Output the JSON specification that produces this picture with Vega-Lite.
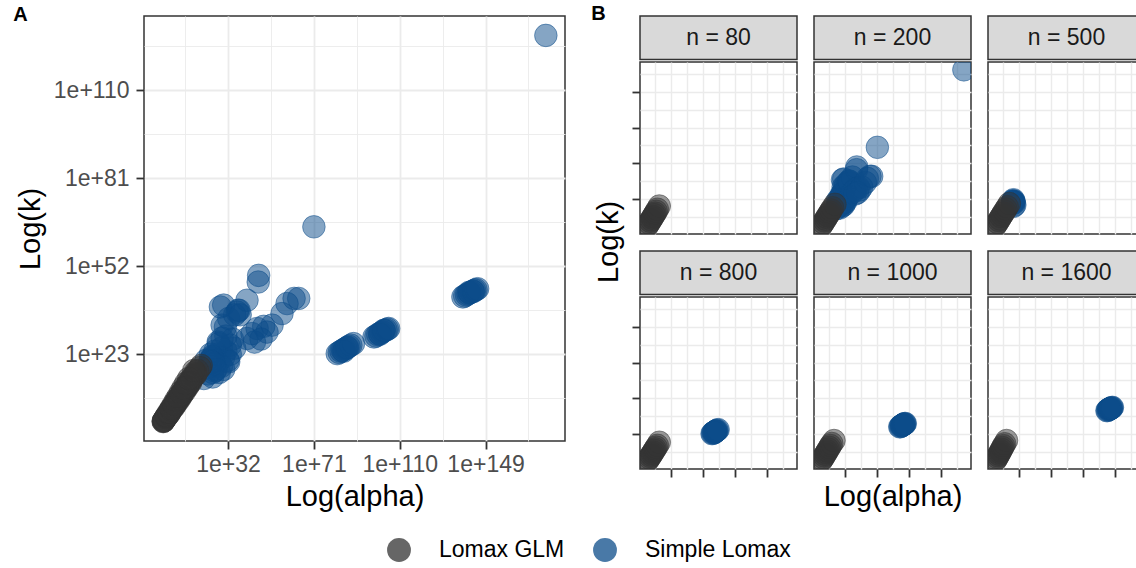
{
  "$schema": "https://vega.github.io/schema/vega-lite/v6.json",
  "background": "white",
  "padding": {"left": 12, "top": 4, "right": 0, "bottom": 0},
  "config": {
    "font": "Liberation Sans",
    "view": {"stroke": "#333333", "strokeWidth": 1.5},
    "axis": {
      "domain": false,
      "gridColor": "#EBEBEB",
      "tickColor": "#333333",
      "tickWidth": 1.8,
      "tickSize": 8,
      "labelColor": "#4D4D4D",
      "labelFontSize": 23,
      "labelFont": "Liberation Sans",
      "titleFont": "Liberation Sans",
      "titleFontSize": 29,
      "titleFontWeight": "normal",
      "titleColor": "#000000",
      "labelOverlap": false,
      "labelFlush": false,
      "labelBound": false
    },
    "legend": {
      "orient": "none",
      "legendX": 243,
      "legendY": 522,
      "direction": "horizontal",
      "labelFontSize": 23,
      "labelFont": "Liberation Sans",
      "labelColor": "#000000",
      "symbolSize": 570,
      "symbolType": "circle",
      "symbolOpacity": 0.75,
      "symbolStrokeWidth": 0,
      "labelOffset": 28,
      "columnPadding": 28
    },
    "title": {"font": "Liberation Sans"}
  },
  "datasets": {
    "pts": [
      {"n": 200, "method": "Simple Lomax", "log10_alpha": 22.5, "log10_k": 18.5},
      {"n": 200, "method": "Simple Lomax", "log10_alpha": 24, "log10_k": 20},
      {"n": 200, "method": "Simple Lomax", "log10_alpha": 25, "log10_k": 22},
      {"n": 200, "method": "Simple Lomax", "log10_alpha": 26, "log10_k": 19},
      {"n": 200, "method": "Simple Lomax", "log10_alpha": 27, "log10_k": 23},
      {"n": 200, "method": "Simple Lomax", "log10_alpha": 28, "log10_k": 21},
      {"n": 200, "method": "Simple Lomax", "log10_alpha": 29, "log10_k": 25},
      {"n": 200, "method": "Simple Lomax", "log10_alpha": 30, "log10_k": 22},
      {"n": 200, "method": "Simple Lomax", "log10_alpha": 31, "log10_k": 24},
      {"n": 200, "method": "Simple Lomax", "log10_alpha": 27.5, "log10_k": 27},
      {"n": 200, "method": "Simple Lomax", "log10_alpha": 32, "log10_k": 21},
      {"n": 200, "method": "Simple Lomax", "log10_alpha": 26, "log10_k": 17.5},
      {"n": 200, "method": "Simple Lomax", "log10_alpha": 33, "log10_k": 26},
      {"n": 200, "method": "Simple Lomax", "log10_alpha": 29, "log10_k": 19},
      {"n": 200, "method": "Simple Lomax", "log10_alpha": 21, "log10_k": 15},
      {"n": 200, "method": "Simple Lomax", "log10_alpha": 23, "log10_k": 16.5},
      {"n": 200, "method": "Simple Lomax", "log10_alpha": 25, "log10_k": 15.5},
      {"n": 200, "method": "Simple Lomax", "log10_alpha": 28, "log10_k": 17},
      {"n": 200, "method": "Simple Lomax", "log10_alpha": 30, "log10_k": 18},
      {"n": 200, "method": "Simple Lomax", "log10_alpha": 33, "log10_k": 23},
      {"n": 200, "method": "Simple Lomax", "log10_alpha": 34, "log10_k": 28},
      {"n": 200, "method": "Simple Lomax", "log10_alpha": 31, "log10_k": 29},
      {"n": 200, "method": "Simple Lomax", "log10_alpha": 26, "log10_k": 24},
      {"n": 200, "method": "Simple Lomax", "log10_alpha": 24, "log10_k": 23},
      {"n": 200, "method": "Simple Lomax", "log10_alpha": 35, "log10_k": 25},
      {"n": 200, "method": "Simple Lomax", "log10_alpha": 22, "log10_k": 21},
      {"n": 200, "method": "Simple Lomax", "log10_alpha": 27.7, "log10_k": 26.5},
      {"n": 200, "method": "Simple Lomax", "log10_alpha": 29.3, "log10_k": 28.3},
      {"n": 200, "method": "Simple Lomax", "log10_alpha": 29.3, "log10_k": 32.6},
      {"n": 200, "method": "Simple Lomax", "log10_alpha": 30.8, "log10_k": 32},
      {"n": 200, "method": "Simple Lomax", "log10_alpha": 32.3, "log10_k": 34.8},
      {"n": 200, "method": "Simple Lomax", "log10_alpha": 28.5, "log10_k": 38.6},
      {"n": 200, "method": "Simple Lomax", "log10_alpha": 30, "log10_k": 39.2},
      {"n": 200, "method": "Simple Lomax", "log10_alpha": 36.1, "log10_k": 36.9},
      {"n": 200, "method": "Simple Lomax", "log10_alpha": 37, "log10_k": 37.5},
      {"n": 200, "method": "Simple Lomax", "log10_alpha": 35, "log10_k": 36},
      {"n": 200, "method": "Simple Lomax", "log10_alpha": 36.5, "log10_k": 37.5},
      {"n": 200, "method": "Simple Lomax", "log10_alpha": 37.5, "log10_k": 36},
      {"n": 200, "method": "Simple Lomax", "log10_alpha": 40.6, "log10_k": 40.8},
      {"n": 200, "method": "Simple Lomax", "log10_alpha": 45.7, "log10_k": 46.8},
      {"n": 200, "method": "Simple Lomax", "log10_alpha": 45.9, "log10_k": 49},
      {"n": 200, "method": "Simple Lomax", "log10_alpha": 32.3, "log10_k": 20.5},
      {"n": 200, "method": "Simple Lomax", "log10_alpha": 40.6, "log10_k": 28.2},
      {"n": 200, "method": "Simple Lomax", "log10_alpha": 42.9, "log10_k": 29.8},
      {"n": 200, "method": "Simple Lomax", "log10_alpha": 45.2, "log10_k": 31.5},
      {"n": 200, "method": "Simple Lomax", "log10_alpha": 48.2, "log10_k": 32.2},
      {"n": 200, "method": "Simple Lomax", "log10_alpha": 49.7, "log10_k": 30.3},
      {"n": 200, "method": "Simple Lomax", "log10_alpha": 44, "log10_k": 27},
      {"n": 200, "method": "Simple Lomax", "log10_alpha": 52, "log10_k": 32.6},
      {"n": 200, "method": "Simple Lomax", "log10_alpha": 56.5, "log10_k": 36.4},
      {"n": 200, "method": "Simple Lomax", "log10_alpha": 58.8, "log10_k": 39.7},
      {"n": 200, "method": "Simple Lomax", "log10_alpha": 62, "log10_k": 41.4},
      {"n": 200, "method": "Simple Lomax", "log10_alpha": 64.1, "log10_k": 41.4},
      {"n": 200, "method": "Simple Lomax", "log10_alpha": 47, "log10_k": 28},
      {"n": 200, "method": "Simple Lomax", "log10_alpha": 71, "log10_k": 65},
      {"n": 200, "method": "Simple Lomax", "log10_alpha": 176.4, "log10_k": 128.1},
      {"n": 500, "method": "Simple Lomax", "log10_alpha": 23.5, "log10_k": 20},
      {"n": 500, "method": "Simple Lomax", "log10_alpha": 24.5, "log10_k": 21.5},
      {"n": 500, "method": "Simple Lomax", "log10_alpha": 25, "log10_k": 20.5},
      {"n": 500, "method": "Simple Lomax", "log10_alpha": 24, "log10_k": 19},
      {"n": 500, "method": "Simple Lomax", "log10_alpha": 25.5, "log10_k": 21},
      {"n": 500, "method": "Simple Lomax", "log10_alpha": 24.8, "log10_k": 22.3},
      {"n": 500, "method": "Simple Lomax", "log10_alpha": 23.8, "log10_k": 21},
      {"n": 500, "method": "Simple Lomax", "log10_alpha": 25.8, "log10_k": 19.8},
      {"n": 500, "method": "Simple Lomax", "log10_alpha": 24.2, "log10_k": 20.4},
      {"n": 500, "method": "Simple Lomax", "log10_alpha": 25, "log10_k": 17},
      {"n": 500, "method": "Simple Lomax", "log10_alpha": 26.5, "log10_k": 18},
      {"n": 800, "method": "Simple Lomax", "log10_alpha": 81.6, "log10_k": 23.2},
      {"n": 800, "method": "Simple Lomax", "log10_alpha": 82.5, "log10_k": 23.6},
      {"n": 800, "method": "Simple Lomax", "log10_alpha": 83.3, "log10_k": 24},
      {"n": 800, "method": "Simple Lomax", "log10_alpha": 84, "log10_k": 24.3},
      {"n": 800, "method": "Simple Lomax", "log10_alpha": 84.8, "log10_k": 24.6},
      {"n": 800, "method": "Simple Lomax", "log10_alpha": 85.5, "log10_k": 24.9},
      {"n": 800, "method": "Simple Lomax", "log10_alpha": 86.3, "log10_k": 25.3},
      {"n": 800, "method": "Simple Lomax", "log10_alpha": 87, "log10_k": 25.6},
      {"n": 800, "method": "Simple Lomax", "log10_alpha": 87.8, "log10_k": 26},
      {"n": 800, "method": "Simple Lomax", "log10_alpha": 89, "log10_k": 26.5},
      {"n": 800, "method": "Simple Lomax", "log10_alpha": 84.5, "log10_k": 24},
      {"n": 800, "method": "Simple Lomax", "log10_alpha": 86, "log10_k": 25.2},
      {"n": 1000, "method": "Simple Lomax", "log10_alpha": 98.3, "log10_k": 28.7},
      {"n": 1000, "method": "Simple Lomax", "log10_alpha": 99.2, "log10_k": 29},
      {"n": 1000, "method": "Simple Lomax", "log10_alpha": 100, "log10_k": 29.5},
      {"n": 1000, "method": "Simple Lomax", "log10_alpha": 100.8, "log10_k": 29.8},
      {"n": 1000, "method": "Simple Lomax", "log10_alpha": 101.5, "log10_k": 30.1},
      {"n": 1000, "method": "Simple Lomax", "log10_alpha": 102.3, "log10_k": 30.4},
      {"n": 1000, "method": "Simple Lomax", "log10_alpha": 103, "log10_k": 30.8},
      {"n": 1000, "method": "Simple Lomax", "log10_alpha": 103.8, "log10_k": 31},
      {"n": 1000, "method": "Simple Lomax", "log10_alpha": 104.4, "log10_k": 31.3},
      {"n": 1000, "method": "Simple Lomax", "log10_alpha": 105, "log10_k": 31.5},
      {"n": 1000, "method": "Simple Lomax", "log10_alpha": 101, "log10_k": 29.6},
      {"n": 1000, "method": "Simple Lomax", "log10_alpha": 102.8, "log10_k": 30.9},
      {"n": 1600, "method": "Simple Lomax", "log10_alpha": 138.7, "log10_k": 41.9},
      {"n": 1600, "method": "Simple Lomax", "log10_alpha": 139.5, "log10_k": 42.2},
      {"n": 1600, "method": "Simple Lomax", "log10_alpha": 140.3, "log10_k": 42.6},
      {"n": 1600, "method": "Simple Lomax", "log10_alpha": 141, "log10_k": 42.9},
      {"n": 1600, "method": "Simple Lomax", "log10_alpha": 141.8, "log10_k": 43.2},
      {"n": 1600, "method": "Simple Lomax", "log10_alpha": 142.5, "log10_k": 43.5},
      {"n": 1600, "method": "Simple Lomax", "log10_alpha": 143.2, "log10_k": 43.8},
      {"n": 1600, "method": "Simple Lomax", "log10_alpha": 144, "log10_k": 44.1},
      {"n": 1600, "method": "Simple Lomax", "log10_alpha": 144.7, "log10_k": 44.3},
      {"n": 1600, "method": "Simple Lomax", "log10_alpha": 145.4, "log10_k": 44.6},
      {"n": 1600, "method": "Simple Lomax", "log10_alpha": 141.5, "log10_k": 43.4},
      {"n": 1600, "method": "Simple Lomax", "log10_alpha": 143.5, "log10_k": 43.7},
      {"n": 80, "method": "Lomax GLM", "log10_alpha": 2.5, "log10_k": 0.8},
      {"n": 80, "method": "Lomax GLM", "log10_alpha": 3.6, "log10_k": 2.1},
      {"n": 80, "method": "Lomax GLM", "log10_alpha": 4.9, "log10_k": 3.3},
      {"n": 80, "method": "Lomax GLM", "log10_alpha": 6.1, "log10_k": 4.8},
      {"n": 80, "method": "Lomax GLM", "log10_alpha": 7.4, "log10_k": 6.0},
      {"n": 80, "method": "Lomax GLM", "log10_alpha": 8.6, "log10_k": 7.5},
      {"n": 80, "method": "Lomax GLM", "log10_alpha": 9.8, "log10_k": 8.6},
      {"n": 80, "method": "Lomax GLM", "log10_alpha": 11.1, "log10_k": 10.2},
      {"n": 80, "method": "Lomax GLM", "log10_alpha": 12.3, "log10_k": 11.4},
      {"n": 80, "method": "Lomax GLM", "log10_alpha": 13.6, "log10_k": 12.9},
      {"n": 80, "method": "Lomax GLM", "log10_alpha": 15.0, "log10_k": 14.6},
      {"n": 80, "method": "Lomax GLM", "log10_alpha": 17.3, "log10_k": 17.2},
      {"n": 200, "method": "Lomax GLM", "log10_alpha": 2.7, "log10_k": 1.0},
      {"n": 200, "method": "Lomax GLM", "log10_alpha": 3.9, "log10_k": 2.3},
      {"n": 200, "method": "Lomax GLM", "log10_alpha": 5.2, "log10_k": 3.6},
      {"n": 200, "method": "Lomax GLM", "log10_alpha": 6.5, "log10_k": 5.1},
      {"n": 200, "method": "Lomax GLM", "log10_alpha": 7.9, "log10_k": 6.4},
      {"n": 200, "method": "Lomax GLM", "log10_alpha": 9.2, "log10_k": 8.0},
      {"n": 200, "method": "Lomax GLM", "log10_alpha": 10.6, "log10_k": 9.3},
      {"n": 200, "method": "Lomax GLM", "log10_alpha": 11.9, "log10_k": 10.9},
      {"n": 200, "method": "Lomax GLM", "log10_alpha": 13.3, "log10_k": 12.3},
      {"n": 200, "method": "Lomax GLM", "log10_alpha": 14.8, "log10_k": 13.9},
      {"n": 200, "method": "Lomax GLM", "log10_alpha": 16.5, "log10_k": 15.8},
      {"n": 200, "method": "Lomax GLM", "log10_alpha": 19.3, "log10_k": 18.6},
      {"n": 500, "method": "Lomax GLM", "log10_alpha": 2.6, "log10_k": 0.9},
      {"n": 500, "method": "Lomax GLM", "log10_alpha": 4.0, "log10_k": 2.4},
      {"n": 500, "method": "Lomax GLM", "log10_alpha": 5.4, "log10_k": 3.8},
      {"n": 500, "method": "Lomax GLM", "log10_alpha": 6.8, "log10_k": 5.4},
      {"n": 500, "method": "Lomax GLM", "log10_alpha": 8.1, "log10_k": 6.7},
      {"n": 500, "method": "Lomax GLM", "log10_alpha": 9.6, "log10_k": 8.4},
      {"n": 500, "method": "Lomax GLM", "log10_alpha": 11.0, "log10_k": 9.8},
      {"n": 500, "method": "Lomax GLM", "log10_alpha": 12.5, "log10_k": 11.5},
      {"n": 500, "method": "Lomax GLM", "log10_alpha": 14.0, "log10_k": 13.0},
      {"n": 500, "method": "Lomax GLM", "log10_alpha": 15.6, "log10_k": 14.8},
      {"n": 500, "method": "Lomax GLM", "log10_alpha": 17.3, "log10_k": 16.6},
      {"n": 500, "method": "Lomax GLM", "log10_alpha": 19.8, "log10_k": 19.3},
      {"n": 800, "method": "Lomax GLM", "log10_alpha": 2.9, "log10_k": 1.1},
      {"n": 800, "method": "Lomax GLM", "log10_alpha": 4.0, "log10_k": 2.2},
      {"n": 800, "method": "Lomax GLM", "log10_alpha": 5.2, "log10_k": 3.3},
      {"n": 800, "method": "Lomax GLM", "log10_alpha": 6.3, "log10_k": 4.6},
      {"n": 800, "method": "Lomax GLM", "log10_alpha": 7.5, "log10_k": 5.7},
      {"n": 800, "method": "Lomax GLM", "log10_alpha": 8.7, "log10_k": 7.0},
      {"n": 800, "method": "Lomax GLM", "log10_alpha": 9.9, "log10_k": 8.2},
      {"n": 800, "method": "Lomax GLM", "log10_alpha": 11.1, "log10_k": 9.6},
      {"n": 800, "method": "Lomax GLM", "log10_alpha": 12.3, "log10_k": 10.8},
      {"n": 800, "method": "Lomax GLM", "log10_alpha": 13.6, "log10_k": 12.2},
      {"n": 800, "method": "Lomax GLM", "log10_alpha": 15.0, "log10_k": 13.7},
      {"n": 800, "method": "Lomax GLM", "log10_alpha": 17.3, "log10_k": 16.2},
      {"n": 1000, "method": "Lomax GLM", "log10_alpha": 2.8, "log10_k": 1.2},
      {"n": 1000, "method": "Lomax GLM", "log10_alpha": 4.0, "log10_k": 2.5},
      {"n": 1000, "method": "Lomax GLM", "log10_alpha": 5.2, "log10_k": 3.7},
      {"n": 1000, "method": "Lomax GLM", "log10_alpha": 6.4, "log10_k": 5.1},
      {"n": 1000, "method": "Lomax GLM", "log10_alpha": 7.6, "log10_k": 6.4},
      {"n": 1000, "method": "Lomax GLM", "log10_alpha": 8.8, "log10_k": 7.8},
      {"n": 1000, "method": "Lomax GLM", "log10_alpha": 10.0, "log10_k": 9.1},
      {"n": 1000, "method": "Lomax GLM", "log10_alpha": 11.3, "log10_k": 10.6},
      {"n": 1000, "method": "Lomax GLM", "log10_alpha": 12.6, "log10_k": 12.0},
      {"n": 1000, "method": "Lomax GLM", "log10_alpha": 13.9, "log10_k": 13.5},
      {"n": 1000, "method": "Lomax GLM", "log10_alpha": 15.5, "log10_k": 15.2},
      {"n": 1000, "method": "Lomax GLM", "log10_alpha": 18.2, "log10_k": 17.6},
      {"n": 1600, "method": "Lomax GLM", "log10_alpha": 3.0, "log10_k": 1.5},
      {"n": 1600, "method": "Lomax GLM", "log10_alpha": 4.0, "log10_k": 2.7},
      {"n": 1600, "method": "Lomax GLM", "log10_alpha": 5.0, "log10_k": 3.9},
      {"n": 1600, "method": "Lomax GLM", "log10_alpha": 6.1, "log10_k": 5.2},
      {"n": 1600, "method": "Lomax GLM", "log10_alpha": 7.2, "log10_k": 6.5},
      {"n": 1600, "method": "Lomax GLM", "log10_alpha": 8.2, "log10_k": 7.8},
      {"n": 1600, "method": "Lomax GLM", "log10_alpha": 9.3, "log10_k": 9.1},
      {"n": 1600, "method": "Lomax GLM", "log10_alpha": 10.4, "log10_k": 10.5},
      {"n": 1600, "method": "Lomax GLM", "log10_alpha": 11.5, "log10_k": 11.9},
      {"n": 1600, "method": "Lomax GLM", "log10_alpha": 12.7, "log10_k": 13.4},
      {"n": 1600, "method": "Lomax GLM", "log10_alpha": 14.1, "log10_k": 15.0},
      {"n": 1600, "method": "Lomax GLM", "log10_alpha": 16.4, "log10_k": 17.6}
    ]
  },
  "spacing": 25,
  "hconcat": [
    {
      "title": {"text": "A", "anchor": "start", "frame": "bounds", "offset": -9, "dx": -3, "fontSize": 20, "fontWeight": "bold", "color": "#000000"},
      "width": 421,
      "height": 425,
      "data": {"name": "pts"},
      "mark": {"type": "point", "filled": true, "size": 510, "opacity": 1, "fillOpacity": 0.5, "strokeOpacity": 0.5, "strokeWidth": 1, "clip": true},
      "encoding": {
        "x": {"field": "log10_alpha", "type": "quantitative", "title": "Log(alpha)",
          "scale": {"domain": [-6.2, 185.1], "nice": false, "zero": false},
          "axis": {"values": [12.5, 32, 51.5, 71, 90.5, 110, 129.5, 149, 168.5],
            "labelExpr": "indexof([32,71,110,149], datum.value) >= 0 ? '1e+' + datum.value : ''",
            "tickOpacity": {"condition": {"test": "indexof([32,71,110,149], datum.value) >= 0", "value": 1}, "value": 0},
            "gridWidth": {"condition": {"test": "indexof([32,71,110,149], datum.value) >= 0", "value": 1.8}, "value": 0.9},
            "labelPadding": 4, "titlePadding": 6}},
        "y": {"field": "log10_k", "type": "quantitative", "title": "Log(k)",
          "scale": {"domain": [-5.6, 134.5], "nice": false, "zero": false},
          "axis": {"values": [8.5, 23, 37.5, 52, 66.5, 81, 95.5, 110, 124.5],
            "labelExpr": "indexof([23,52,81,110], datum.value) >= 0 ? '1e+' + datum.value : ''",
            "tickOpacity": {"condition": {"test": "indexof([23,52,81,110], datum.value) >= 0", "value": 1}, "value": 0},
            "gridWidth": {"condition": {"test": "indexof([23,52,81,110], datum.value) >= 0", "value": 1.8}, "value": 0.9},
            "labelPadding": 7, "titlePadding": 8}},
        "color": {"field": "method", "type": "nominal",
          "scale": {"domain": ["Lomax GLM", "Simple Lomax"], "range": ["#333333", "#0C4C8A"]},
          "legend": {"title": null}},
        "stroke": {"field": "method", "type": "nominal",
          "scale": {"domain": ["Lomax GLM", "Simple Lomax"], "range": ["#333333", "#0C4C8A"]},
          "legend": null}
      }
    },
    {
      "title": {"text": "B", "anchor": "start", "frame": "bounds", "offset": -9, "dx": -4, "fontSize": 20, "fontWeight": "bold", "color": "#000000"},
      "vconcat": [
        {
          "title": {"text": "Log(k)", "orient": "left", "anchor": "middle", "fontSize": 29, "fontWeight": "normal", "color": "#000000", "offset": 6, "dx": 22},
          "spacing": 15,
          "vconcat": [
            {
              "spacing": 15,
              "hconcat": [
                {"spacing": 0, "vconcat": [
                  {"width": 157, "height": 43.5, "view": {"fill": "#D9D9D9", "stroke": "#333333", "strokeWidth": 1.5}, "data": {"values": [{"label": "n = 80"}]}, "mark": {"type": "text", "fontSize": 23, "color": "#1A1A1A", "font": "Liberation Sans"}, "encoding": {"text": {"field": "label"}}},
                  {"width": 157, "height": 172, "data": {"name": "pts"}, "transform": [{"filter": "datum.n == 80"}],
                    "mark": {"type": "point", "filled": true, "size": 510, "opacity": 1, "fillOpacity": 0.5, "strokeOpacity": 0.5, "strokeWidth": 1, "clip": true},
                    "encoding": {
                      "x": {"field": "log10_alpha", "type": "quantitative", "scale": {"domain": [-6.2, 185.1], "nice": false, "zero": false},
                        "axis": {"title": null, "labels": false, "ticks": false, "values": [12.5, 32, 51.5, 71, 90.5, 110, 129.5, 149, 168.5], "gridWidth": 1.4}},
                      "y": {"field": "log10_k", "type": "quantitative", "scale": {"domain": [-5.6, 134.5], "nice": false, "zero": false},
                        "axis": {"title": null, "labels": false, "values": [8.5, 23, 37.5, 52, 66.5, 81, 95.5, 110, 124.5], "gridWidth": 1.4,
                          "tickOpacity": {"condition": {"test": "indexof([23,52,81,110], datum.value) >= 0", "value": 1}, "value": 0}}},
                      "color": {"field": "method", "type": "nominal", "scale": {"domain": ["Lomax GLM", "Simple Lomax"], "range": ["#333333", "#0C4C8A"]}, "legend": {"title": null}},
                      "stroke": {"field": "method", "type": "nominal", "scale": {"domain": ["Lomax GLM", "Simple Lomax"], "range": ["#333333", "#0C4C8A"]}, "legend": null}
                    }}
                ]},
                {"spacing": 0, "vconcat": [
                  {"width": 157, "height": 43.5, "view": {"fill": "#D9D9D9", "stroke": "#333333", "strokeWidth": 1.5}, "data": {"values": [{"label": "n = 200"}]}, "mark": {"type": "text", "fontSize": 23, "color": "#1A1A1A", "font": "Liberation Sans"}, "encoding": {"text": {"field": "label"}}},
                  {"width": 157, "height": 172, "data": {"name": "pts"}, "transform": [{"filter": "datum.n == 200"}],
                    "mark": {"type": "point", "filled": true, "size": 510, "opacity": 1, "fillOpacity": 0.5, "strokeOpacity": 0.5, "strokeWidth": 1, "clip": true},
                    "encoding": {
                      "x": {"field": "log10_alpha", "type": "quantitative", "scale": {"domain": [-6.2, 185.1], "nice": false, "zero": false},
                        "axis": {"title": null, "labels": false, "ticks": false, "values": [12.5, 32, 51.5, 71, 90.5, 110, 129.5, 149, 168.5], "gridWidth": 1.4}},
                      "y": {"field": "log10_k", "type": "quantitative", "scale": {"domain": [-5.6, 134.5], "nice": false, "zero": false},
                        "axis": {"title": null, "labels": false, "ticks": false, "values": [8.5, 23, 37.5, 52, 66.5, 81, 95.5, 110, 124.5], "gridWidth": 1.4}},
                      "color": {"field": "method", "type": "nominal", "scale": {"domain": ["Lomax GLM", "Simple Lomax"], "range": ["#333333", "#0C4C8A"]}, "legend": {"title": null}},
                      "stroke": {"field": "method", "type": "nominal", "scale": {"domain": ["Lomax GLM", "Simple Lomax"], "range": ["#333333", "#0C4C8A"]}, "legend": null}
                    }}
                ]},
                {"spacing": 0, "vconcat": [
                  {"width": 157, "height": 43.5, "view": {"fill": "#D9D9D9", "stroke": "#333333", "strokeWidth": 1.5}, "data": {"values": [{"label": "n = 500"}]}, "mark": {"type": "text", "fontSize": 23, "color": "#1A1A1A", "font": "Liberation Sans"}, "encoding": {"text": {"field": "label"}}},
                  {"width": 157, "height": 172, "data": {"name": "pts"}, "transform": [{"filter": "datum.n == 500"}],
                    "mark": {"type": "point", "filled": true, "size": 510, "opacity": 1, "fillOpacity": 0.5, "strokeOpacity": 0.5, "strokeWidth": 1, "clip": true},
                    "encoding": {
                      "x": {"field": "log10_alpha", "type": "quantitative", "scale": {"domain": [-6.2, 185.1], "nice": false, "zero": false},
                        "axis": {"title": null, "labels": false, "ticks": false, "values": [12.5, 32, 51.5, 71, 90.5, 110, 129.5, 149, 168.5], "gridWidth": 1.4}},
                      "y": {"field": "log10_k", "type": "quantitative", "scale": {"domain": [-5.6, 134.5], "nice": false, "zero": false},
                        "axis": {"title": null, "labels": false, "ticks": false, "values": [8.5, 23, 37.5, 52, 66.5, 81, 95.5, 110, 124.5], "gridWidth": 1.4}},
                      "color": {"field": "method", "type": "nominal", "scale": {"domain": ["Lomax GLM", "Simple Lomax"], "range": ["#333333", "#0C4C8A"]}, "legend": {"title": null}},
                      "stroke": {"field": "method", "type": "nominal", "scale": {"domain": ["Lomax GLM", "Simple Lomax"], "range": ["#333333", "#0C4C8A"]}, "legend": null}
                    }}
                ]}
              ]
            },
            {
              "spacing": 15,
              "hconcat": [
                {"spacing": 0, "vconcat": [
                  {"width": 157, "height": 43.5, "view": {"fill": "#D9D9D9", "stroke": "#333333", "strokeWidth": 1.5}, "data": {"values": [{"label": "n = 800"}]}, "mark": {"type": "text", "fontSize": 23, "color": "#1A1A1A", "font": "Liberation Sans"}, "encoding": {"text": {"field": "label"}}},
                  {"width": 157, "height": 172, "data": {"name": "pts"}, "transform": [{"filter": "datum.n == 800"}],
                    "mark": {"type": "point", "filled": true, "size": 510, "opacity": 1, "fillOpacity": 0.5, "strokeOpacity": 0.5, "strokeWidth": 1, "clip": true},
                    "encoding": {
                      "x": {"field": "log10_alpha", "type": "quantitative", "scale": {"domain": [-6.2, 185.1], "nice": false, "zero": false},
                        "axis": {"title": null, "labels": false, "values": [12.5, 32, 51.5, 71, 90.5, 110, 129.5, 149, 168.5], "gridWidth": 1.4,
                          "tickOpacity": {"condition": {"test": "indexof([32,71,110,149], datum.value) >= 0", "value": 1}, "value": 0}}},
                      "y": {"field": "log10_k", "type": "quantitative", "scale": {"domain": [-5.6, 134.5], "nice": false, "zero": false},
                        "axis": {"title": null, "labels": false, "values": [8.5, 23, 37.5, 52, 66.5, 81, 95.5, 110, 124.5], "gridWidth": 1.4,
                          "tickOpacity": {"condition": {"test": "indexof([23,52,81,110], datum.value) >= 0", "value": 1}, "value": 0}}},
                      "color": {"field": "method", "type": "nominal", "scale": {"domain": ["Lomax GLM", "Simple Lomax"], "range": ["#333333", "#0C4C8A"]}, "legend": {"title": null}},
                      "stroke": {"field": "method", "type": "nominal", "scale": {"domain": ["Lomax GLM", "Simple Lomax"], "range": ["#333333", "#0C4C8A"]}, "legend": null}
                    }}
                ]},
                {"spacing": 0, "vconcat": [
                  {"width": 157, "height": 43.5, "view": {"fill": "#D9D9D9", "stroke": "#333333", "strokeWidth": 1.5}, "data": {"values": [{"label": "n = 1000"}]}, "mark": {"type": "text", "fontSize": 23, "color": "#1A1A1A", "font": "Liberation Sans"}, "encoding": {"text": {"field": "label"}}},
                  {"width": 157, "height": 172, "data": {"name": "pts"}, "transform": [{"filter": "datum.n == 1000"}],
                    "mark": {"type": "point", "filled": true, "size": 510, "opacity": 1, "fillOpacity": 0.5, "strokeOpacity": 0.5, "strokeWidth": 1, "clip": true},
                    "encoding": {
                      "x": {"field": "log10_alpha", "type": "quantitative", "title": "Log(alpha)", "scale": {"domain": [-6.2, 185.1], "nice": false, "zero": false},
                        "axis": {"labels": false, "values": [12.5, 32, 51.5, 71, 90.5, 110, 129.5, 149, 168.5], "gridWidth": 1.4, "titlePadding": 5,
                          "tickOpacity": {"condition": {"test": "indexof([32,71,110,149], datum.value) >= 0", "value": 1}, "value": 0}}},
                      "y": {"field": "log10_k", "type": "quantitative", "scale": {"domain": [-5.6, 134.5], "nice": false, "zero": false},
                        "axis": {"title": null, "labels": false, "ticks": false, "values": [8.5, 23, 37.5, 52, 66.5, 81, 95.5, 110, 124.5], "gridWidth": 1.4}},
                      "color": {"field": "method", "type": "nominal", "scale": {"domain": ["Lomax GLM", "Simple Lomax"], "range": ["#333333", "#0C4C8A"]}, "legend": {"title": null}},
                      "stroke": {"field": "method", "type": "nominal", "scale": {"domain": ["Lomax GLM", "Simple Lomax"], "range": ["#333333", "#0C4C8A"]}, "legend": null}
                    }}
                ]},
                {"spacing": 0, "vconcat": [
                  {"width": 157, "height": 43.5, "view": {"fill": "#D9D9D9", "stroke": "#333333", "strokeWidth": 1.5}, "data": {"values": [{"label": "n = 1600"}]}, "mark": {"type": "text", "fontSize": 23, "color": "#1A1A1A", "font": "Liberation Sans"}, "encoding": {"text": {"field": "label"}}},
                  {"width": 157, "height": 172, "data": {"name": "pts"}, "transform": [{"filter": "datum.n == 1600"}],
                    "mark": {"type": "point", "filled": true, "size": 510, "opacity": 1, "fillOpacity": 0.5, "strokeOpacity": 0.5, "strokeWidth": 1, "clip": true},
                    "encoding": {
                      "x": {"field": "log10_alpha", "type": "quantitative", "scale": {"domain": [-6.2, 185.1], "nice": false, "zero": false},
                        "axis": {"title": null, "labels": false, "values": [12.5, 32, 51.5, 71, 90.5, 110, 129.5, 149, 168.5], "gridWidth": 1.4,
                          "tickOpacity": {"condition": {"test": "indexof([32,71,110,149], datum.value) >= 0", "value": 1}, "value": 0}}},
                      "y": {"field": "log10_k", "type": "quantitative", "scale": {"domain": [-5.6, 134.5], "nice": false, "zero": false},
                        "axis": {"title": null, "labels": false, "ticks": false, "values": [8.5, 23, 37.5, 52, 66.5, 81, 95.5, 110, 124.5], "gridWidth": 1.4}},
                      "color": {"field": "method", "type": "nominal", "scale": {"domain": ["Lomax GLM", "Simple Lomax"], "range": ["#333333", "#0C4C8A"]}, "legend": {"title": null}},
                      "stroke": {"field": "method", "type": "nominal", "scale": {"domain": ["Lomax GLM", "Simple Lomax"], "range": ["#333333", "#0C4C8A"]}, "legend": null}
                    }}
                ]}
              ]
            }
          ]
        }
      ]
    }
  ]
}
